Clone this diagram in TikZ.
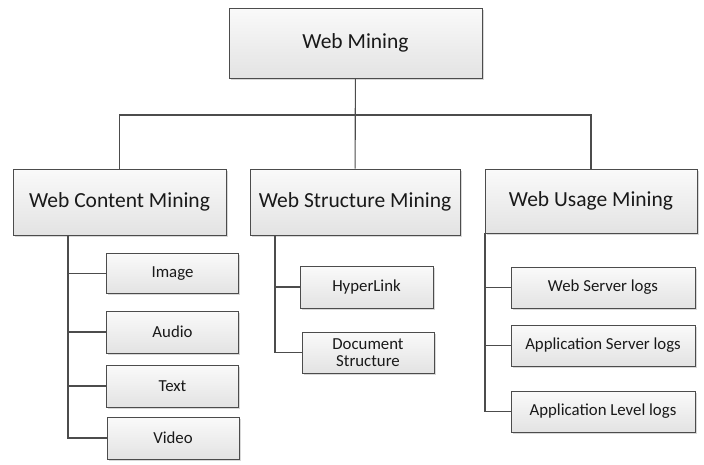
\documentclass[tikz,border=0pt]{standalone}
\usepackage{fontspec}
\setmainfont{Carlito}
\usetikzlibrary{shadows}
\definecolor{LineClr}{rgb}{0.3,0.3,0.3}
\definecolor{TextClr}{rgb}{0.1,0.1,0.1}
\definecolor{BoxTopClr}{rgb}{0.98,0.98,0.98}
\definecolor{BoxBotClr}{rgb}{0.89,0.89,0.89}

\begin{document}
\begin{tikzpicture}[x=1pt,y=-1pt,
  box/.style={draw=LineClr,line width=1pt,top color=BoxTopClr,bottom color=BoxBotClr,
    text=TextClr,align=center,inner sep=0pt,
    drop shadow={shadow xshift=1.5pt,shadow yshift=-1.5pt,fill=gray!60,opacity=0.5}},
  bigbox/.style={box,font=\fontsize{21.5}{24}\selectfont},
  smallbox/.style={box,font=\fontsize{16.8}{20}\selectfont},
  link/.style={draw=LineClr,line width=1.1pt}]
\useasboundingbox (0,0) rectangle (704,464);

\node[bigbox,minimum width=253pt,minimum height=70pt] (wm) at (355.5,43) {Web Mining};

\node[bigbox,minimum width=213pt,minimum height=66pt] (wcm) at (119.5,202) {Web Content Mining};
\node[bigbox,minimum width=210pt,minimum height=66pt] (wsm) at (355,202) {Web Structure Mining};
\node[bigbox,minimum width=212pt,minimum height=64pt] (wum) at (591,201) {Web Usage Mining};

\node[smallbox,minimum width=132pt,minimum height=40pt] (img) at (172.5,273.5) {Image};
\node[smallbox,minimum width=132pt,minimum height=42pt] (aud) at (172.5,332) {Audio};
\node[smallbox,minimum width=132pt,minimum height=42pt] (txt) at (172.5,386) {Text};
\node[smallbox,minimum width=132pt,minimum height=42pt] (vid) at (173,438) {Video};

\node[smallbox,minimum width=133pt,minimum height=42pt] (hyp) at (366.5,287) {HyperLink};
\node[smallbox,minimum width=132pt,minimum height=41pt] (doc) at (368,352.5) {Document\\[-3pt]Structure};

\node[smallbox,minimum width=184pt,minimum height=41pt] (wsl) at (603,287.5) {Web Server logs};
\node[smallbox,minimum width=184pt,minimum height=41pt] (asl) at (603,345.5) {Application Server logs};
\node[smallbox,minimum width=184pt,minimum height=41pt] (all) at (603,411.5) {Application Level logs};

\coordinate (bus) at (355.5,115);
\coordinate (tc) at (68,235);
\coordinate (ts) at (275,235);
\coordinate (tu) at (485,233);

\draw[link] (wm) -- (wsm);
\draw[link] (wcm) |- (bus) -| (wum);

\draw[link] (tc) |- (vid);
\draw[link] (tc |- img) -- (img);
\draw[link] (tc |- aud) -- (aud);
\draw[link] (tc |- txt) -- (txt);

\draw[link] (ts) |- (doc);
\draw[link] (ts |- hyp) -- (hyp);

\draw[link] (tu) |- (all);
\draw[link] (tu |- wsl) -- (wsl);
\draw[link] (tu |- asl) -- (asl);

\end{tikzpicture}
\end{document}
